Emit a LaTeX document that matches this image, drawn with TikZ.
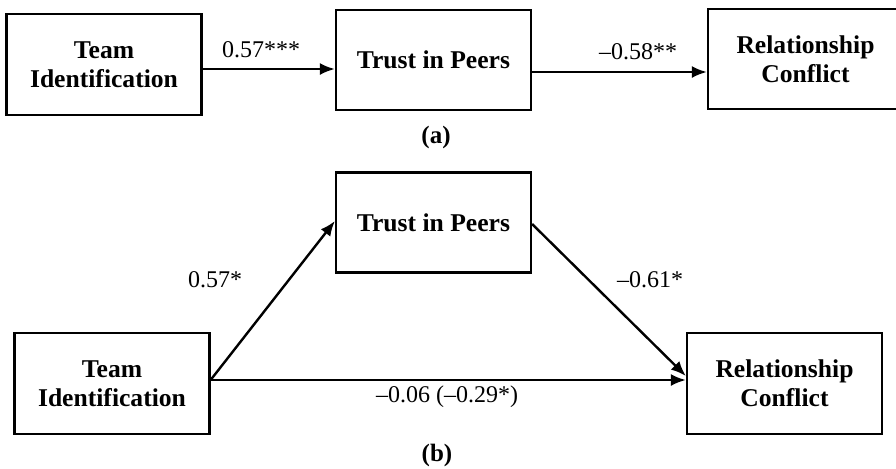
\documentclass[tikz,border=0pt]{standalone}
\usepackage{fontspec}
\setmainfont{Liberation Serif}
\usetikzlibrary{arrows.meta}
\begin{document}
\begin{tikzpicture}[x=0.5pt,y=-0.5pt,
  box/.style={draw, line width=1.1pt, minimum width=97.5pt, minimum height=50pt, align=center,
    font=\fontsize{12.8}{14.3}\selectfont\bfseries, inner sep=0pt},
  arr/.style={line width=1.2pt, -{Latex[length=7.5pt,width=6pt]}},
  lbl/.style={font=\fontsize{12}{14}\selectfont, inner sep=0pt},
  subcap/.style={font=\fontsize{12.5}{14}\selectfont\bfseries, inner sep=0pt}]
\useasboundingbox (0,0) rectangle (896,468);
% (a)
\node[box, minimum height=50.5pt] (TeamA) at (104,64.5) {Team\\Identification};
\node[box] (TrustA) at (433.5,60) {Trust in Peers};
\node[box] (RelA) at (805.5,59) {Relationship\\Conflict};
\draw[arr] (TeamA.east |- 0,69) -- (TrustA.west |- 0,69);
\draw[arr] (TrustA.east |- 0,72) -- (RelA.west |- 0,72);
\node[lbl] (la1) at (261,50) {0.57***};
\node[lbl] (la2) at (638,52) {--0.58**};
\node[subcap] (capa) at (436,137) {(a)};
% (b)
\node[box, minimum height=50.5pt] (TeamB) at (112,383.5) {Team\\Identification};
\node[box] (TrustB) at (433.5,222.5) {Trust in Peers};
\node[box, minimum height=50.5pt] (RelB) at (784.5,383.5) {Relationship\\Conflict};
\draw[arr] (TeamB.east |- 0,380) -- (TrustB.west |- 0,221);
\draw[arr] (TeamB.east |- 0,380) -- (RelB.west |- 0,380);
\draw[arr] (TrustB.east |- 0,224) -- (RelB.west |- 0,376);
\node[lbl] (lb1) at (215,280) {0.57*};
\node[lbl] (lb2) at (650,280) {--0.61*};
\node[lbl] (lb3) at (447,397) {--0.06 (--0.29*)};
\node[subcap] (capb) at (437,455) {(b)};
\end{tikzpicture}
\end{document}
